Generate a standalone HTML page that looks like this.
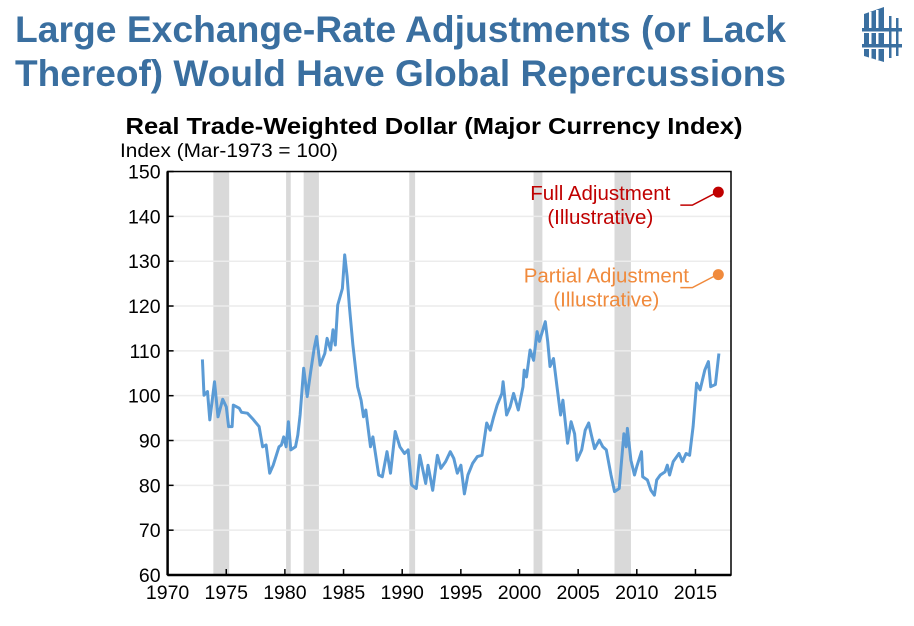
<!DOCTYPE html>
<html><head><meta charset="utf-8"><style>
body{margin:0;background:#fff;}
svg{display:block;font-family:"Liberation Sans",Arial,sans-serif;}
</style></head><body>
<svg width="914" height="626" viewBox="0 0 914 626">
<text x="15" y="42" font-size="37" font-weight="bold" fill="#3a6fa0" textLength="771" lengthAdjust="spacingAndGlyphs">Large Exchange-Rate Adjustments (or Lack</text>
<text x="15" y="86" font-size="37" font-weight="bold" fill="#3a6fa0" textLength="771" lengthAdjust="spacingAndGlyphs">Thereof) Would Have Global Repercussions</text>
<g fill="#3a6fa0">
<polygon points="864,14 884,7 884,62 864,56"/>
<rect x="869" y="12" width="2.5" height="46" fill="#fff"/>
<rect x="876" y="10" width="2.5" height="50" fill="#fff"/>
<rect x="862" y="28" width="40" height="3.5"/>
<rect x="862" y="44" width="40" height="3.5"/>
<rect x="889" y="16" width="2.5" height="42"/>
<rect x="896" y="18" width="2.5" height="38"/>
<rect x="864" y="31.5" width="20" height="1.5" fill="#fff"/>
<rect x="864" y="47.5" width="20" height="1.5" fill="#fff"/>
</g>
<text x="434" y="134" font-size="23" font-weight="bold" text-anchor="middle" fill="#000" textLength="617" lengthAdjust="spacingAndGlyphs">Real Trade-Weighted Dollar (Major Currency Index)</text>
<text x="120" y="157" font-size="19" fill="#000" textLength="218" lengthAdjust="spacingAndGlyphs">Index (Mar-1973 = 100)</text>
<g id="plot"></g>
</svg>
<script>
const years=[1972.97,1973.1,1973.4,1973.6,1974.0,1974.3,1974.7,1975.0,1975.2,1975.5,1975.6,1976.1,1976.3,1976.8,1977.3,1977.8,1978.1,1978.4,1978.7,1979.0,1979.5,1979.7,1979.9,1980.1,1980.3,1980.5,1980.9,1981.1,1981.3,1981.6,1981.9,1982.2,1982.5,1982.7,1983.0,1983.4,1983.6,1983.9,1984.1,1984.3,1984.5,1984.9,1985.1,1985.3,1985.5,1985.8,1986.2,1986.5,1986.7,1986.9,1987.3,1987.5,1988.0,1988.3,1988.7,1989.0,1989.4,1989.8,1990.2,1990.5,1990.8,1991.2,1991.5,1992.0,1992.2,1992.6,1993.0,1993.3,1993.7,1994.1,1994.4,1994.7,1995.0,1995.3,1995.6,1996.0,1996.4,1996.8,1997.2,1997.5,1997.8,1998.1,1998.5,1998.6,1998.9,1999.2,1999.5,1999.9,2000.3,2000.4,2000.6,2000.9,2001.2,2001.5,2001.7,2002.2,2002.4,2002.6,2002.9,2003.2,2003.5,2003.7,2004.1,2004.4,2004.7,2004.9,2005.3,2005.6,2005.9,2006.1,2006.4,2006.8,2007.1,2007.4,2007.8,2008.1,2008.5,2008.7,2008.9,2009.1,2009.2,2009.5,2009.8,2010.0,2010.4,2010.5,2010.9,2011.2,2011.5,2011.7,2012.0,2012.4,2012.6,2012.8,2013.1,2013.6,2013.9,2014.2,2014.5,2014.8,2015.1,2015.4,2015.8,2016.1,2016.3,2016.7,2017.0];
const dollarIndex=[108.1,100.1,100.9,94.6,103.1,95.3,99.2,97.5,93.1,93.1,97.9,97.2,96.3,96.1,94.7,93.1,88.6,89.0,82.7,84.5,88.6,89.0,90.8,88.6,94.2,87.9,88.6,91.2,95.7,106.1,99.8,105.4,110.6,113.2,106.8,109.4,112.8,110.2,114.7,111.3,120.2,123.9,131.4,126.6,119.9,111.3,102.0,99.0,95.3,96.8,88.6,90.8,82.3,81.9,87.5,82.7,92.0,88.6,87.1,87.9,80.1,79.3,86.7,80.4,84.5,78.9,86.7,83.8,85.3,87.5,86.0,82.7,84.5,78.1,82.3,84.9,86.4,86.7,93.9,92.3,95.3,97.9,100.5,103.1,95.7,97.5,100.5,96.8,102.0,105.7,104.2,110.2,107.9,114.3,112.1,116.5,112.1,106.5,108.3,102.0,95.7,99.0,89.4,94.2,91.5,85.6,87.9,92.3,93.9,91.5,88.2,90.1,88.6,87.9,82.3,78.6,79.3,85.6,91.5,88.6,92.7,85.6,82.3,84.2,87.5,81.9,81.2,78.9,77.8,81.2,82.3,83.0,84.5,82.3,85.3,87.1,85.3,87.1,86.7,93.1,102.8,101.3,105.7,107.6,102.0,102.5,109.4];
const recessionStart=[1973.9,1980.1,1981.6,1990.6,2001.2,2008.1];
const recessionEnd=[1975.25,1980.5,1982.9,1991.1,2001.95,2009.5];
const yTicks=[60,70,80,90,100,110,120,130,140,150];
const xTicks=[1970,1975,1980,1985,1990,1995,2000,2005,2010,2015];
const scenarioYear=[2016.95,2016.95];
const scenarioValue=[145.4,127.0];
const scenarioLabel=["Full Adjustment","Partial Adjustment"];
const scenarioColor=["#c00000","#f08a3c"];

const X0=167.6,PX=11.73,Y0=575,PY=4.483;
const xs=y=>X0+(y-1970)*PX;
const ys=v=>Y0-(v-60)*PY;
const L=xs(1970),R=731,T=ys(150),B=ys(60);
const NS="http://www.w3.org/2000/svg";
const g=document.getElementById('plot');
function mk(tag,attrs,parent){const e=document.createElementNS(NS,tag);for(const k in attrs)e.setAttribute(k,attrs[k]);(parent||g).appendChild(e);return e;}
for(let i=0;i<recessionStart.length;i++){
 const r=mk('rect',{x:xs(recessionStart[i]),y:T,width:xs(recessionEnd[i])-xs(recessionStart[i]),height:B-T,fill:'#d9d9d9'});
 
 
}
yTicks.forEach(v=>{
 if(v>60&&v<150){const l=mk('line',{x1:L,x2:R,y1:ys(v),y2:ys(v),stroke:'#ececec','stroke-width':1.5});
 
 }
 const tk=mk('line',{x1:L,x2:L+6,y1:ys(v),y2:ys(v),stroke:'#000','stroke-width':1.5});
 
 
 const t=mk('text',{x:L-7,y:ys(v)+7,'font-size':19.5,'text-anchor':'end',fill:'#000'});
 t.textContent=v;
 
 
});
xTicks.forEach(y=>{
 const tk=mk('line',{x1:xs(y),x2:xs(y),y1:B,y2:B-6,stroke:'#000','stroke-width':1.5});
 
 
 const t=mk('text',{x:xs(y),y:B+24,'font-size':19.5,'text-anchor':'middle',fill:'#000'});
 t.textContent=y;
 
 
});
const frame=mk('rect',{x:L,y:T,width:R-L,height:B-T,fill:'none',stroke:'#000','stroke-width':1.5});


const ax=mk('line',{x1:L,x2:R,y1:B,y2:B,stroke:'#000','stroke-width':2.5});


const ay=mk('line',{x1:L,x2:L,y1:T,y2:B,stroke:'#000','stroke-width':2.5});


const line=mk('polyline',{points:years.map((y,i)=>xs(y).toFixed(1)+','+ys(dollarIndex[i]).toFixed(1)).join(' '),fill:'none',stroke:'#5b9bd5','stroke-width':3,'stroke-linejoin':'round'});


for(let i=0;i<scenarioValue.length;i++){
 const cx=xs(scenarioYear[i]),cy=ys(scenarioValue[i]);
 const c=mk('circle',{cx:cx,cy:cy,r:5.5,fill:scenarioColor[i]});
 
 
 const ld=mk('polyline',{points:`${cx-38},${cy+13} ${cx-26},${cy+13} ${cx-3},${cy+1}`,fill:'none',stroke:scenarioColor[i],'stroke-width':1.5});
 
 
 const tx=cx-(i==0?118:112);
 const t1=mk('text',{x:tx,y:cy+8,'font-size':20.5,'text-anchor':'middle',fill:scenarioColor[i]});
 t1.textContent=scenarioLabel[i];
 
 
 const t2=mk('text',{x:tx,y:cy+32,'font-size':20.5,'text-anchor':'middle',fill:scenarioColor[i]});
 t2.textContent='(Illustrative)';
 
 
}
</script>
</body></html>
